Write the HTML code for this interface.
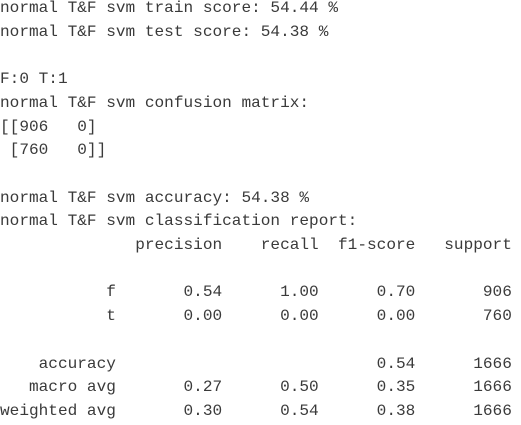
<!DOCTYPE html>
<html><head><meta charset="utf-8"><style>
html,body{margin:0;padding:0;background:#fff;width:521px;height:425px;overflow:hidden}
pre{position:absolute;left:0;top:-3px;margin:0;font-family:"Liberation Mono",monospace;font-size:16.1px;line-height:23.7px;color:#3a3a3a;white-space:pre}
</style></head><body>
<pre>normal T&amp;F svm train score: 54.44 %
normal T&amp;F svm test score: 54.38 %

F:0 T:1
normal T&amp;F svm confusion matrix:
[[906   0]
 [760   0]]

normal T&amp;F svm accuracy: 54.38 %
normal T&amp;F svm classification report:
              precision    recall  f1-score   support

           f       0.54      1.00      0.70       906
           t       0.00      0.00      0.00       760

    accuracy                           0.54      1666
   macro avg       0.27      0.50      0.35      1666
weighted avg       0.30      0.54      0.38      1666</pre>
</body></html>
